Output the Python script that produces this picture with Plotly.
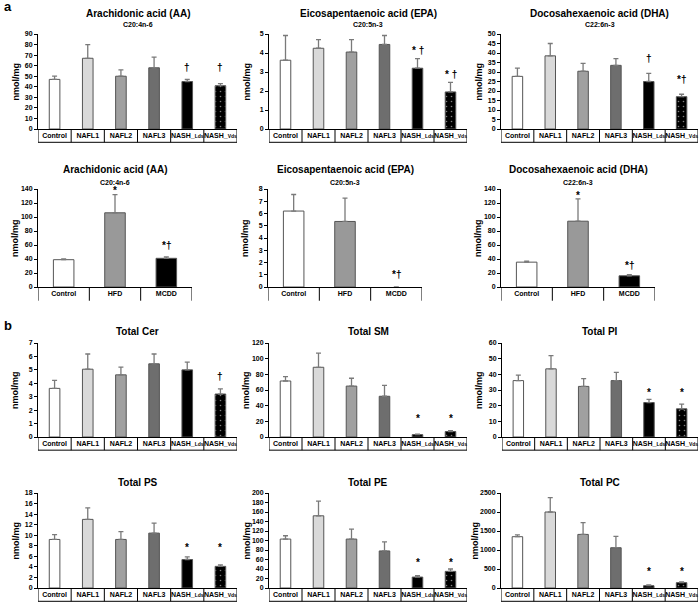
import plotly.graph_objects as go

human = ["Control", "NAFL1", "NAFL2", "NAFL3", "NASH_Lds", "NASH_Vds"]
human_ticks = ["Control", "NAFL1", "NAFL2", "NAFL3",
               "NASH_<span style='font-size:5px'>Lds</span>",
               "NASH_<span style='font-size:5px'>Vds</span>"]
mouse = ["Control", "HFD", "MCDD"]

human_colors = ["white", "#d9d9d9", "#a0a0a0", "#6e6e6e", "black", "black"]
human_pattern = ["", "", "", "", "", "."]
mouse_colors = ["white", "#999999", "black"]

# human fatty acids
aa_h = [47, 67, 50, 58, 45, 41]
aa_h_err = [3, 13, 6, 10, 2, 2]
epa_h = [3.62, 4.25, 4.05, 4.45, 3.2, 1.95]
epa_h_err = [1.3, 0.45, 0.65, 0.47, 0.5, 0.5]
dha_h = [27.7, 38.5, 30.4, 33.5, 25, 17]
dha_h_err = [4.3, 6.5, 4.1, 3.5, 4.3, 1.3]

# mouse fatty acids
aa_m = [39, 106, 41]
aa_m_err = [1, 26, 2]
epa_m = [6.2, 5.35, 0]
epa_m_err = [1.35, 1.9, 0]
dha_m = [35.5, 94, 16]
dha_m_err = [1.5, 32, 1.5]

# human lipid classes
cer = [3.62, 5.05, 4.63, 5.45, 5.0, 3.2]
cer_err = [0.6, 1.13, 0.57, 0.73, 0.58, 0.38]
sm = [71.5, 89, 65, 52, 3, 7]
sm_err = [5.5, 18, 10, 14, 0.6, 1]
pi = [36, 43.5, 32.3, 36, 22, 18]
pi_err = [3.5, 8.5, 5, 5.3, 2, 3]
ps = [9.2, 13, 9.2, 10.4, 5.4, 4.1]
ps_err = [0.9, 2.2, 1.5, 1.9, 0.5, 0.3]
pe = [103, 152, 103, 78, 23, 35]
pe_err = [7, 31, 21, 19, 3, 5]
pc = [1350, 2000, 1410, 1060, 60, 140]
pc_err = [50, 380, 310, 300, 20, 20]

# (title, subtitle, values, errors, y max, tick step, marks[(index, text, y)])
panels = [
    ("Arachidonic acid (AA)", "C20:4n-6", aa_h, aa_h_err, 90, 10,
     [(4, "†", 58), (5, "†", 58)]),
    ("Eicosapentaenoic acid (EPA)", "C20:5n-3", epa_h, epa_h_err, 5, 1,
     [(4, "* †", 4.15), (5, "* †", 2.87)]),
    ("Docosahexaenoic acid (DHA)", "C22:6n-3", dha_h, dha_h_err, 50, 5,
     [(4, "†", 37.2), (5, "*†", 25.8)]),
    ("Arachidonic acid (AA)", "C20:4n-6", aa_m, aa_m_err, 140, 20,
     [(1, "*", 138), (2, "*†", 59)]),
    ("Eicosapentaenoic acid (EPA)", "C20:5n-3", epa_m, epa_m_err, 8, 1,
     [(2, "*†", 1.05)]),
    ("Docosahexaenoic acid (DHA)", "C22:6n-3", dha_m, dha_m_err, 140, 20,
     [(1, "*", 131), (2, "*†", 31)]),
    ("Total Cer", "", cer, cer_err, 7, 1, [(5, "†", 4.5)]),
    ("Total SM", "", sm, sm_err, 120, 20, [(4, "*", 23), (5, "*", 23)]),
    ("Total PI", "", pi, pi_err, 60, 10, [(4, "*", 28.5), (5, "*", 28.5)]),
    ("Total PS", "", ps, ps_err, 18, 2, [(4, "*", 7.6), (5, "*", 7.6)]),
    ("Total PE", "", pe, pe_err, 200, 20, [(4, "*", 54), (5, "*", 54)]),
    ("Total PC", "", pc, pc_err, 2500, 500, [(4, "*", 433), (5, "*", 433)]),
]

W, H = 700, 605
# pixel boxes of each plot area: x0, x1, ytop, ybottom
boxes = [
    (38, 237, 34, 129), (269, 467, 34, 129), (501, 698, 34, 129),
    (38, 192, 189, 287), (268, 422, 189, 287), (501, 655, 189, 287),
    (38, 237, 343, 437), (269, 467, 343, 437), (502, 698, 343, 437),
    (38, 237, 493, 588), (269, 467, 493, 588), (501, 698, 493, 588),
]
title_y = [13, 13, 13, 170, 170, 170, 331, 331, 331, 482, 482, 482]
sub_y = [25, 25, 25, 183, 183, 183]
ylabel_gap = [23] * 11 + [27]

FONT = "Liberation Sans, Arial, sans-serif"
fig = go.Figure()
annotations = []
shapes = []


def note(text, x, y, size, xref="paper", yref="paper", **kw):
    return dict(text=text, x=x, y=y, xref=xref, yref=yref, showarrow=False,
                xanchor=kw.pop("xanchor", "center"), yanchor="middle",
                font=dict(family=FONT, size=size, color="black"), **kw)


for i, (title, sub, vals, errs, ymax, step, marks) in enumerate(panels):
    n = i + 1
    xa = "x" if n == 1 else f"x{n}"
    ya = "y" if n == 1 else f"y{n}"
    is_mouse = 3 <= i <= 5
    cats = mouse if is_mouse else human
    ticks = mouse if is_mouse else human_ticks
    colors = mouse_colors if is_mouse else human_colors
    pattern = ["", "", ""] if is_mouse else human_pattern

    fig.add_trace(go.Bar(
        x=cats, y=vals, xaxis=xa, yaxis=ya,
        width=0.4 if is_mouse else 0.32,
        marker=dict(color=colors,
                    line=dict(color="#555555", width=[1 if v > 0 else 0 for v in vals]),
                    pattern=dict(shape=pattern, fgcolor="white", bgcolor="black",
                                 size=5, solidity=0.08)),
        error_y=dict(type="data", array=errs, arrayminus=[0] * len(errs),
                     symmetric=False, color="#7a7a7a", thickness=1.3, width=2.5),
        showlegend=False, hoverinfo="x+y",
    ))

    x0, x1, yt, yb = boxes[i]
    dom_x = [x0 / W, x1 / W]
    dom_y = [1 - yb / H, 1 - yt / H]
    fig.update_layout(**{
        ("xaxis" if n == 1 else f"xaxis{n}"): dict(
            domain=dom_x, anchor=ya, type="category",
            range=[-0.5, len(cats) - 0.5],
            tickvals=cats, ticktext=ticks, ticks="", tickangle=0,
            showline=True, linecolor="black", linewidth=1,
            tickfont=dict(family=FONT, size=7, color="black", weight="bold"),
            automargin=False, fixedrange=True,
        ),
        ("yaxis" if n == 1 else f"yaxis{n}"): dict(
            domain=dom_y, anchor=xa, range=[0, ymax], dtick=step,
            tick0=0, showgrid=False, zeroline=False,
            showline=True, linecolor="black", linewidth=1,
            ticks="outside", ticklen=3, tickcolor="black",
            tickfont=dict(family=FONT, size=7, color="black", weight="bold"),
            automargin=False,
        ),
    })

    # category separators under the axis
    depth = -0.14
    for k in range(len(cats) + 1):
        shapes.append(dict(type="line", xref=xa, yref=f"{ya} domain",
                           x0=k - 0.5, x1=k - 0.5, y0=0, y1=depth,
                           line=dict(color="black", width=1)))
    if not is_mouse:
        shapes.append(dict(type="line", xref=xa, yref=f"{ya} domain",
                           x0=-0.5, x1=len(cats) - 0.5, y0=depth, y1=depth,
                           line=dict(color="black", width=1)))

    xc = (x0 + x1) / 2 / W
    annotations.append(note(f"<b>{title}</b>", xc, 1 - title_y[i] / H, 10))
    if sub:
        annotations.append(note(f"<b>{sub}</b>", xc, 1 - sub_y[i] / H, 7))
    annotations.append(note("<b>nmol/mg</b>", (x0 - ylabel_gap[i]) / W,
                            1 - (yt + yb) / 2 / H, 9, textangle=-90))
    for idx, txt, yv in marks:
        annotations.append(note(f"<b>{txt}</b>", cats[idx], yv, 10, xref=xa, yref=ya))

annotations.append(note("<b>a</b>", 2 / W, 1 - 6 / H, 13, xanchor="left"))
annotations.append(note("<b>b</b>", 2 / W, 1 - 325 / H, 13, xanchor="left"))

fig.update_layout(
    width=W, height=H, margin=dict(l=0, r=0, t=0, b=0),
    paper_bgcolor="white", plot_bgcolor="white",
    annotations=annotations, shapes=shapes, bargap=0.6,
)

fig.write_html("out.html", config={"displayModeBar": False},
               post_script="document.body.style.margin='0';")
